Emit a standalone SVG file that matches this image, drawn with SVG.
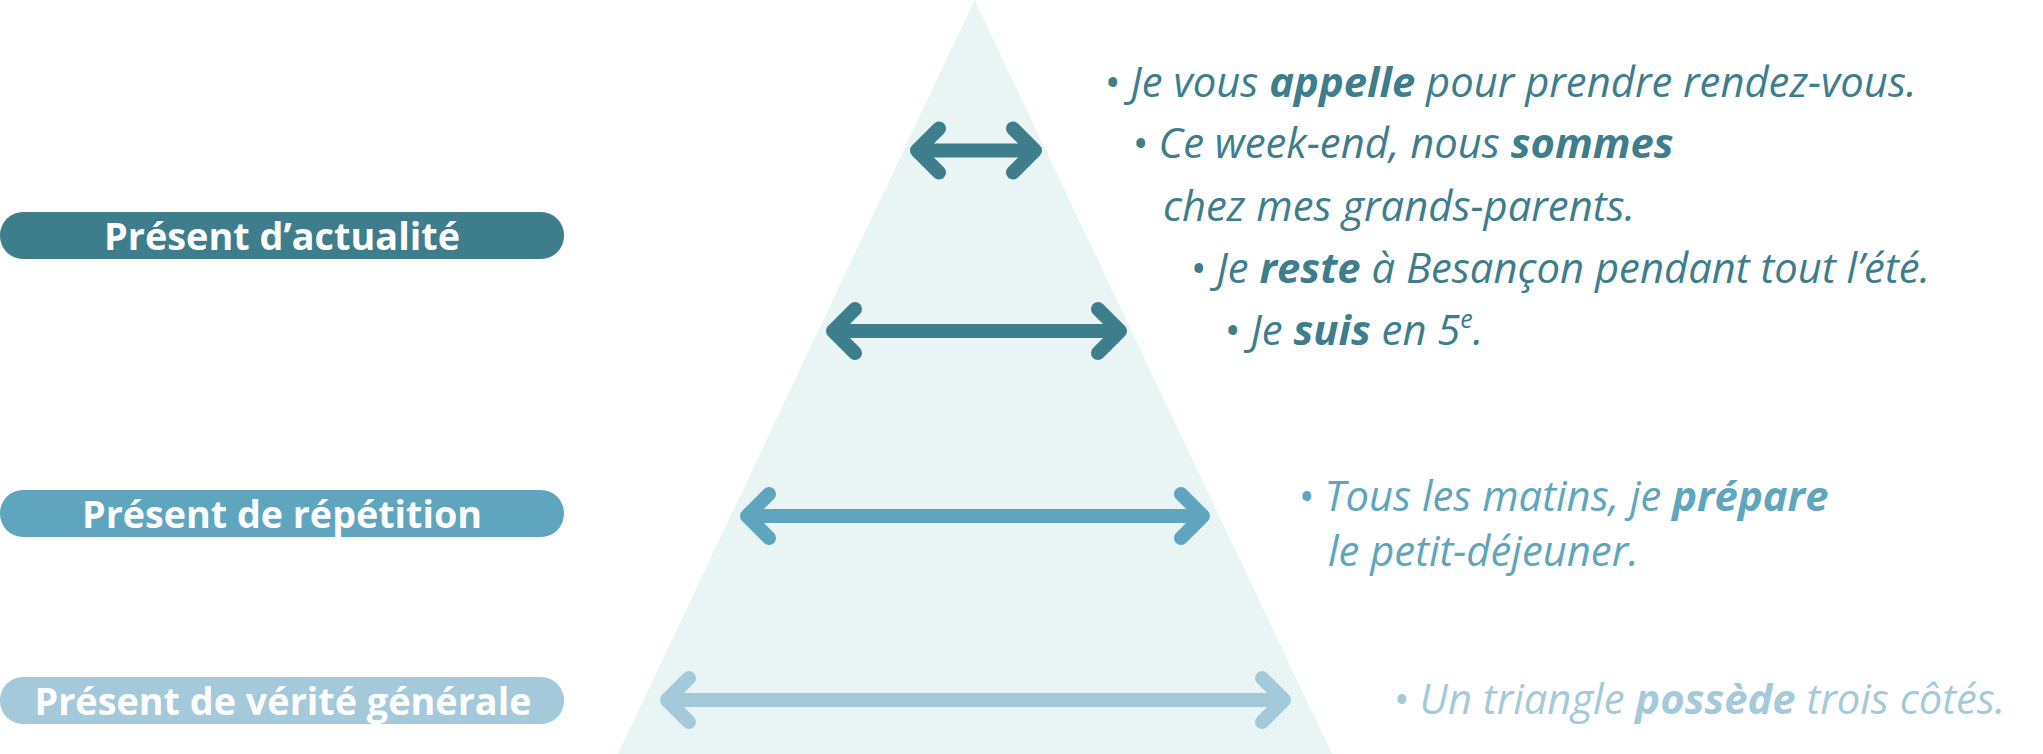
<svg xmlns="http://www.w3.org/2000/svg" width="2043" height="754" viewBox="0 0 2043 754">
<style>
.lbl{font-family:"Open Sans","Noto Sans",sans-serif;font-weight:700;font-size:38px;fill:#ffffff;text-anchor:middle}
.ex{font-family:"Open Sans","Noto Sans",sans-serif;font-style:italic;font-size:41.8px}
.b{font-weight:700}
.c1{fill:#3e7d8b}.c2{fill:#5ea5bd}.c3{fill:#a4c9da}
.a{fill:none;stroke-width:14;stroke-linecap:round;stroke-linejoin:round}
.s1{stroke:#3e7d8b}.s2{stroke:#5ea5bd}.s3{stroke:#a4c9da}
</style>
<rect width="2043" height="754" fill="#ffffff"/>
<polygon id="triangle" points="974.6,0 618,754 1332,754" fill="#e9f5f5"/>
<g id="label-actualite">
<rect x="0" y="212" width="564" height="47" rx="23" class="c1"/>
<text class="lbl" x="282" y="250" textLength="356" lengthAdjust="spacingAndGlyphs">Présent d’actualité</text>
</g>
<g id="label-repetition">
<rect x="0" y="490" width="564" height="47" rx="23" class="c2"/>
<text class="lbl" x="282" y="528" textLength="400" lengthAdjust="spacingAndGlyphs">Présent de répétition</text>
</g>
<g id="label-verite">
<rect x="0" y="677" width="564" height="47" rx="23" class="c3"/>
<text class="lbl" x="283" y="715" textLength="497" lengthAdjust="spacingAndGlyphs">Présent de vérité générale</text>
</g>
<g id="connectors">
<path class="a s1" d="M917,150.5 H1035 M939,128.5 L917,150.5 L939,172.5 M1013,128.5 L1035,150.5 L1013,172.5"/>
<path class="a s1" d="M833,331 H1120 M855,309 L833,331 L855,353 M1098,309 L1120,331 L1098,353"/>
<path class="a s2" d="M747,516 H1203 M769,494 L747,516 L769,538 M1181,494 L1203,516 L1181,538"/>
<path class="a s3" d="M667,700 H1284 M689,678 L667,700 L689,722 M1262,678 L1284,700 L1262,722"/>
</g>
<g id="examples-actualite" class="ex c1">
<text x="1104" y="97">• Je vous <tspan class="b">appelle</tspan> pour prendre rendez-vous.</text>
<text x="1132" y="158">• Ce week-end, nous <tspan class="b">sommes</tspan></text>
<text x="1163" y="221">chez mes grands-parents.</text>
<text x="1190" y="283">• Je <tspan class="b">reste</tspan> à Besançon pendant tout l’été.</text>
<text x="1224" y="345">• Je <tspan class="b">suis</tspan> en 5<tspan font-size="25" dy="-17">e</tspan><tspan dy="17">.</tspan></text>
</g>
<g id="examples-repetition" class="ex c2">
<text x="1298" y="511">• Tous les matins, je <tspan class="b">prépare</tspan></text>
<text x="1328" y="566">le petit-déjeuner.</text>
</g>
<g id="examples-verite" class="ex c3">
<text x="1393" y="714">• Un triangle <tspan class="b">possède</tspan> trois côtés.</text>
</g>
</svg>
